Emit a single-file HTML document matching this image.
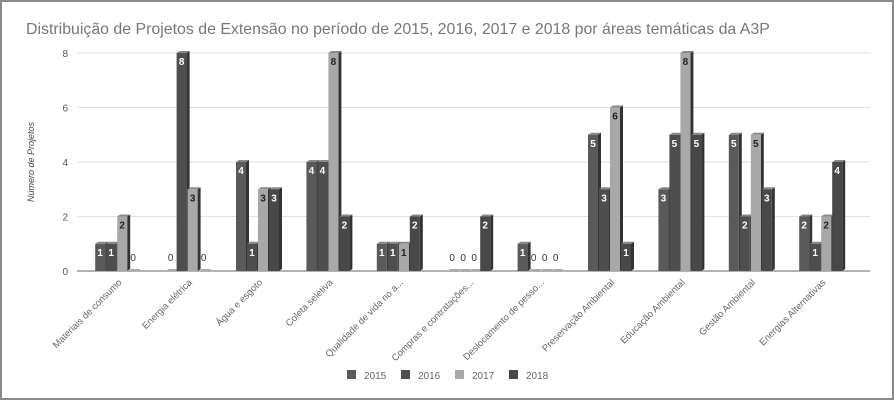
<!DOCTYPE html>
<html><head><meta charset="utf-8"><style>
body{margin:0;background:#fff;}
#wrap{position:relative;width:894px;height:400px;box-sizing:border-box;border:2px solid #8a8a8a;background:#fff;overflow:hidden;}
svg text{font-family:"Liberation Sans",sans-serif;}
</style></head><body>
<div id="wrap">
<svg id="chart" width="890" height="396">
<text x="24" y="32" font-size="15.9" fill="#777">Distribuição de Projetos de Extensão no período de 2015, 2016, 2017 e 2018 por áreas temáticas da A3P</text>
<text transform="translate(32,200) rotate(-90)" font-size="9" font-style="italic" fill="#444">Número de Projetos</text>
<g id="grid"></g><g id="bars"></g><g id="xl"></g><g id="legend"></g>
</svg></div>
<script>
const categories=["Materiais de consumo","Energia elétrica","Água e esgoto","Coleta seletiva","Qualidade de vida no a...","Compras e contratações...","Deslocamento de pesso...","Preservação Ambiental","Educação Ambiental","Gestão Ambiental","Energias Alternativas"];
const s2015=[1,0,4,4,1,0,1,5,3,5,2];
const s2016=[1,8,1,4,1,0,0,3,5,2,1];
const s2017=[2,3,3,8,1,0,0,6,8,5,2];
const s2018=[0,0,3,2,2,2,0,1,5,3,4];
const seriesNames=["2015","2016","2017","2018"];
const yTicks=[0,2,4,6,8];
const series=[s2015,s2016,s2017,s2018];
const colors=["#5a5a5a","#4e4e4e","#a8a8a8","#484848"];
const NS="http://www.w3.org/2000/svg";
const X0=81,Y0=269,Y8=51,STEP=70.4,BW=11;
const y=v=>Y0-(Y0-Y8)*v/8;
const gx=i=>X0+STEP*i+STEP/2;
function mk(t,a,p){const e=document.createElementNS(NS,t);for(const k in a)e.setAttribute(k,a[k]);p.appendChild(e);return e;}
const grid=document.getElementById('grid');
yTicks.forEach(t=>{
 const l=mk('line',{x1:75,x2:868,y1:y(t),y2:y(t),stroke:t==0?'#999':'#e2e2e2','stroke-width':t==0?1.5:1},grid);
 
 
 const tx=mk('text',{x:66,y:y(t)+4,'text-anchor':'end','font-size':10,fill:'#555'},grid);
 tx.textContent=t;
 
 
});
const bars=document.getElementById('bars');
categories.forEach((c,i)=>{
 series.forEach((s,j)=>{
  const v=s[i];const x=gx(i)-2*BW+j*BW-1;const top=y(v);
  const g=mk('g',{},bars);
  
  
  if(v>0){
   mk('polygon',{points:`${x+BW-1},${top} ${x+BW+2},${top-2} ${x+BW+2},${Y0-2} ${x+BW-1},${Y0}`,fill:'#333'},g);
   mk('polygon',{points:`${x},${top} ${x+3},${top-2} ${x+BW+2},${top-2} ${x+BW-1},${top}`,fill:'#888'},g);
   mk('rect',{x:x,y:top,width:BW-1,height:Y0-top,fill:colors[j]},g);
   const t=mk('text',{x:x+BW/2-0.5,y:top+12,'text-anchor':'middle','font-size':10,'font-weight':'bold',fill:j==2?'#222':'#fff'},g);
   t.textContent=v;
  } else {
   mk('polygon',{points:`${x},${Y0} ${x+3},${Y0-2} ${x+BW+2},${Y0-2} ${x+BW-1},${Y0}`,fill:'#aaa'},g);
   const t=mk('text',{x:x+BW/2-0.5,y:Y0-10,'text-anchor':'middle','font-size':10,fill:'#333'},g);
   t.textContent=v;
  }
 });
 const t=mk('text',{transform:`translate(${gx(i)+4},${Y0+12}) rotate(-45)`,'text-anchor':'end','font-size':9.5,fill:'#666'},document.getElementById('xl'));
 t.textContent=c;
 
 
});
const lg=document.getElementById('legend');
seriesNames.forEach((n,j)=>{
 const x=345+j*54;
 const g=mk('g',{},lg);
 
 
 mk('rect',{x:x,y:368,width:9,height:9,fill:colors[j]},g);
 const t=mk('text',{x:x+17,y:377,'font-size':10,fill:'#666'},g);
 t.textContent=n;
});
</script>
</body></html>
